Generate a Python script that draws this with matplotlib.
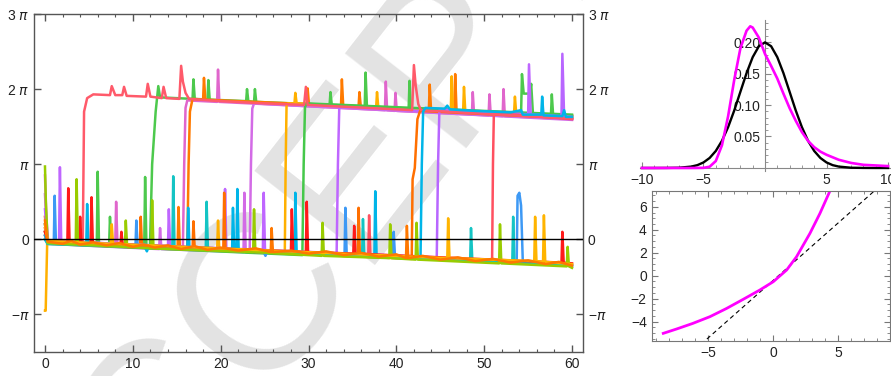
import numpy as np
import matplotlib.pyplot as plt

plt.rcParams['font.family'] = ['Liberation Sans', 'DejaVu Sans']
plt.rcParams['mathtext.fontset'] = 'dejavusans'

# ---- left panel: phase trajectories, values in units of pi ----
green_a = [[0, 0.2], [0.3, -0.03], [5.9, -0.07], [6.0, 0.9], [6.15, -0.07], [7.3, -0.08], [7.4, 0.3], [7.55, -0.08],
           [11.3, -0.1], [11.4, 0.83], [11.55, -0.1], [11.95, -0.1], [12.2, 1.0], [12.6, 1.7], [12.9, 2.04], [13.1, 1.89],
           [16.8, 1.87], [16.9, 2.13], [17.05, 1.87], [18.5, 1.86], [18.6, 2.12], [18.75, 1.86], [22.9, 1.84], [23.0, 2.0],
           [23.15, 1.84], [23.8, 1.83], [23.9, 2.0], [24.05, 1.83], [32.4, 1.79], [32.5, 1.96], [32.65, 1.79], [36.4, 1.77],
           [36.5, 2.22], [36.65, 1.77], [41.4, 1.74], [41.5, 2.11], [41.65, 1.74], [54.2, 1.67], [54.3, 2.2], [54.5, 1.94],
           [55.2, 1.94], [55.35, 2.07], [55.55, 1.67], [57.6, 1.65], [57.7, 1.93], [57.85, 1.65], [60, 1.64]]
pink_a = [[0, 0.85], [0.15, 0.3], [0.35, -0.01], [8.0, -0.06], [8.1, 0.5], [8.25, -0.06], [15.7, -0.1], [15.85, 1.0],
          [16.0, 1.75], [16.2, 1.85], [19.6, 1.83], [19.7, 2.26], [19.85, 1.83], [38.7, 1.72], [38.8, 2.1], [38.95, 1.72],
          [39.8, 1.71], [39.9, 1.95], [40.05, 1.71], [48.6, 1.66], [48.7, 1.96], [48.85, 1.66], [50.5, 1.65], [50.6, 1.93],
          [50.75, 1.65], [52.1, 1.64], [52.2, 2.0], [52.35, 1.64], [60, 1.6]]
orange_a = [[0, 0.3], [0.3, -0.02], [15.1, -0.1], [15.2, 0.43], [15.35, -0.1], [16.2, -0.11], [16.35, 1.0], [16.5, 1.7],
            [16.8, 1.87], [18.0, 1.86], [18.1, 2.15], [18.25, 1.86], [29.8, 1.8], [29.9, 2.01], [30.05, 1.8], [33.7, 1.78],
            [33.8, 2.13], [33.95, 1.78], [35.7, 1.77], [35.8, 1.96], [35.95, 1.77], [43.7, 1.73], [43.8, 2.06], [43.95, 1.73],
            [46.6, 1.72], [46.7, 2.2], [46.85, 1.72], [60, 1.65]]
orchid = [[0, 0.6], [0.3, -0.06], [13.0, -0.13], [13.1, 0.15], [13.25, -0.13], [22.6, -0.17], [22.7, 0.62],
          [22.85, -0.17], [23.3, -0.18], [23.45, 1.0], [23.6, 1.74], [23.8, 1.81], [60, 1.59]]
yellow_a = [[0, -0.95], [0.08, -0.95], [0.25, -0.05], [19.6, -0.15], [19.7, 0.25], [19.85, -0.15], [27.3, -0.19],
            [27.4, 1.0], [27.5, 1.78], [27.7, 1.81], [28.4, 1.81], [28.5, 1.95], [28.65, 1.81], [37.7, 1.75], [37.8, 1.96],
            [37.95, 1.75], [46.2, 1.71], [46.3, 2.17], [46.45, 1.71], [47.6, 1.7], [47.7, 2.03], [47.85, 1.7],
            [53.4, 1.67], [53.5, 1.9], [53.65, 1.67], [60, 1.63]]
green_b = [[0, 0.1], [0.3, -0.06], [29.3, -0.21], [29.45, 1.0], [29.6, 1.76], [29.8, 1.81], [60, 1.66]]
violet_a = [[0, 0.4], [0.3, -0.04], [1.6, -0.05], [1.7, 0.96], [1.85, -0.05], [14.0, -0.11], [14.1, 0.4], [14.25, -0.11],
            [20.4, -0.14], [20.5, 0.67], [20.65, -0.14], [24.8, -0.16], [24.9, 0.62], [25.05, -0.16], [33.2, -0.21],
            [33.35, 1.0], [33.5, 1.74], [33.7, 1.76], [55.0, 1.64], [55.1, 2.33], [55.3, 1.64], [60, 1.6]]
orange_b = [[0, 0.15], [0.3, -0.05], [10.8, -0.11], [10.9, 0.3], [11.05, -0.11], [16.8, -0.13], [16.9, 0.24], [17.05, -0.13],
            [20.3, -0.15], [20.4, 0.62], [20.55, -0.15], [35.6, -0.23], [35.7, 0.42], [35.85, -0.23], [41.75, -0.26],
            [41.85, 0.8], [42.1, 0.95], [42.4, 1.6], [42.7, 1.71], [60, 1.61]]
violet_b = [[0, 0.2], [0.3, -0.02], [44.6, -0.24], [44.75, 1.0], [44.9, 1.72], [45.1, 1.73], [58.8, 1.64], [58.9, 2.47],
            [59.1, 1.64], [60, 1.63]]
coral_b = [[0, 0.1], [0.3, -0.05], [36.8, -0.23], [36.9, 0.32], [37.05, -0.23], [50.9, -0.3], [51.0, 1.0], [51.1, 1.66],
           [51.3, 1.68], [60, 1.6]]
coral_a = [[0, 0.05], [0.3, -0.04], [2, -0.05], [4.3, -0.06], [4.45, 1.7], [4.8, 1.88], [5.5, 1.93], [7.4, 1.92],
           [7.6, 2.04], [8.0, 1.92], [8.8, 1.92], [9.0, 2.03], [9.3, 1.91], [11.5, 1.9], [11.7, 2.07], [12.0, 1.9],
           [13.3, 1.88], [13.5, 2.03], [13.8, 1.88], [15.3, 1.87], [15.5, 2.31], [15.7, 2.1], [16.0, 1.95], [16.4, 1.87],
           [20, 1.84], [25, 1.81], [29.5, 1.79], [29.7, 2.03], [29.9, 1.79], [35, 1.76], [41.8, 1.72], [42.0, 2.32],
           [42.2, 2.05], [42.5, 1.8], [42.8, 1.72], [50, 1.67], [60, 1.61]]
cyan = [[0, 0.05], [0.3, -0.05], [4.7, -0.07], [4.8, 0.47], [4.95, -0.07], [11.4, -0.11], [11.6, -0.16], [11.8, -0.1],
        [16.2, -0.12], [16.3, 0.42], [16.45, -0.12], [21.3, -0.15], [21.4, 0.42], [21.55, -0.15], [21.8, -0.15],
        [21.9, 0.67], [22.05, -0.15], [28.4, -0.18], [28.5, 0.62], [28.65, -0.18], [37.5, -0.23], [37.6, 0.64],
        [37.75, -0.23], [42.75, -0.26], [42.9, 1.0], [43.05, 1.7], [43.3, 1.75], [45.5, 1.74], [45.8, 1.78], [46.1, 1.73],
        [49, 1.71], [51, 1.7], [53, 1.69], [54.2, 1.72], [54.4, 1.66], [56.5, 1.66], [56.6, 1.9], [56.75, 1.65],
        [58.9, 1.64], [59.1, 1.72], [59.3, 1.63], [60, 1.63]]
red = [[0, 0.1], [0.3, -0.02], [2.55, -0.04], [2.65, 0.68], [2.8, -0.04], [3.9, -0.05], [4.0, 0.3], [4.15, -0.05],
       [5.2, -0.06], [5.3, 0.56], [5.45, -0.06], [8.6, -0.07], [8.7, 0.1], [8.85, -0.07], [28.0, -0.16], [28.1, 0.4],
       [28.25, -0.16], [29.7, -0.17], [29.8, 0.5], [29.95, -0.17], [35.1, -0.19], [35.2, 0.18], [35.35, -0.19],
       [58.8, -0.31], [58.9, 0.1], [59.05, -0.31], [60, -0.32]]
yellowgreen = [[0, 0.97], [0.1, 0.5], [0.3, -0.05], [3.5, -0.07], [3.6, 0.8], [3.75, -0.07], [9.1, -0.1], [9.2, 0.25],
               [9.35, -0.1], [12.1, -0.12], [12.2, 0.52], [12.35, -0.12], [23.7, -0.17], [23.8, 0.4], [23.95, -0.17],
               [31.5, -0.22], [31.6, 0.22], [31.75, -0.22], [39.2, -0.25], [39.3, 0.2], [39.45, -0.25], [42.2, -0.27],
               [42.3, 0.22], [42.45, -0.27], [51.7, -0.32], [51.8, 0.2], [51.95, -0.32], [59.4, -0.36], [59.5, -0.1],
               [59.65, -0.36], [60, -0.38]]
teal = [[0, 0.0], [0.3, -0.06], [14.5, -0.12], [14.6, 0.84], [14.75, -0.12], [18.3, -0.14], [18.4, 0.5], [18.55, -0.14],
        [36.1, -0.23], [36.2, 0.27], [36.35, -0.23], [48.4, -0.29], [48.5, 0.15], [48.65, -0.29], [53.2, -0.31],
        [53.3, 0.3], [53.45, -0.31], [60, -0.35]]
blue = [[0, 0.0], [0.3, -0.06], [1.0, -0.06], [1.1, 0.58], [1.25, -0.06], [10.3, -0.1], [10.4, 0.25], [10.55, -0.1],
        [24.9, -0.17], [25.1, -0.22], [25.3, -0.16], [34.1, -0.22], [34.2, 0.42], [34.35, -0.22], [39.6, -0.24],
        [39.7, 0.1], [39.85, -0.24], [53.7, -0.31], [53.8, 0.58], [54.0, 0.62], [54.2, 0.45], [54.4, -0.31], [60, -0.35]]
yellow_b = [[0, 0.2], [0.3, -0.02], [7.5, -0.06], [7.6, 0.2], [7.75, -0.06], [45.8, -0.25], [45.9, 0.28], [46.05, -0.25],
            [55.7, -0.29], [55.8, 0.3], [55.95, -0.29], [56.7, -0.3], [56.8, 0.32], [56.95, -0.3], [60, -0.33]]
orange_band = [[0, 0.25], [0.3, -0.03], [2, -0.06], [3, -0.02], [4, -0.07], [5.5, -0.04], [7, -0.08], [8.5, -0.05],
               [10, -0.1], [11.2, -0.07], [12.5, -0.11], [14, -0.08], [15.5, -0.13], [17, -0.09], [18.5, -0.14],
               [20, -0.11], [22, -0.15], [24, -0.12], [25.7, -0.17], [25.8, 0.15], [25.95, -0.17], [28, -0.15],
               [30, -0.19], [32, -0.16], [34, -0.21], [36, -0.18], [38, -0.23], [40, -0.2], [41.1, -0.25], [41.2, 0.18],
               [41.35, -0.25], [43, -0.22], [45, -0.27], [47, -0.24], [49, -0.29], [51, -0.26], [53, -0.31], [55, -0.28],
               [57, -0.33], [58.5, -0.3], [60, -0.35]]

traces = [(green_a, '#4DC94D'), (pink_a, '#E066CC'), (orange_a, '#FF7A00'), (orchid, '#D36BE6'), (yellow_a, '#FFB000'),
          (green_b, '#45C84A'), (violet_a, '#BF66FF'), (orange_b, '#FF6F00'), (violet_b, '#B866FF'),
          (coral_b, '#FF5060'), (coral_a, '#FF5A6A'), (cyan, '#00B5E8'), (blue, '#3D99F5'), (teal, '#14C4C4'),
          (red, '#FF1A1A'), (yellowgreen, '#99CC00'), (yellow_b, '#FFB400'), (orange_band, '#FF7800')]

# ---- top right: densities ----
pdf_x = [-10, -9, -8, -7, -6, -5.5, -5, -4.5, -4, -3.5, -3, -2.5, -2, -1.5, -1, -0.5, 0,
         0.5, 1, 1.5, 2, 2.5, 3, 3.5, 4, 4.5, 5, 5.5, 6, 7, 8, 9, 10]
pdf_black = [0, 0, 0.0001, 0.0004, 0.0022, 0.0045, 0.0088, 0.0159, 0.027, 0.0431, 0.0648, 0.0913, 0.121, 0.1506,
             0.176, 0.1933, 0.1995, 0.1933, 0.176, 0.1506, 0.121, 0.0913, 0.0648, 0.0431, 0.027, 0.0159, 0.0088,
             0.0045, 0.0022, 0.0004, 0.0001, 0, 0]
mag_x = [-10, -6, -5, -4.5, -4, -3.5, -3, -2.5, -2, -1.5, -1.2, -1, -0.5, 0, 0.5, 1, 1.5, 2, 2.5, 3, 3.5, 4, 4.5, 5,
         6, 7, 8, 9, 10]
mag_y = [0, 0, 0.0002, 0.002, 0.011, 0.036, 0.082, 0.14, 0.19, 0.218, 0.225, 0.223, 0.207, 0.181, 0.162, 0.142,
         0.118, 0.095, 0.075, 0.057, 0.043, 0.033, 0.026, 0.021, 0.013, 0.008, 0.005, 0.004, 0.003]

# ---- bottom right: quantile curve ----
qq_x = [-8.46, -7.43, -6.2, -4.87, -3.6, -2.31, -1.03, 0, 1.03, 1.79, 2.82, 3.59, 4.36, 4.6]
qq_y = [-5.01, -4.63, -4.15, -3.56, -2.85, -2.05, -1.24, -0.52, 0.5, 1.65, 3.68, 5.42, 7.37, 8.2]
diag_x = [-6.0, 9.0]
diag_y = [-6.4, 8.6]

fig = plt.figure(figsize=(8.91, 3.76), dpi=100)
fig.patch.set_facecolor('white')

fig.text(0.452, 0.64, 'ACCEPTED', rotation=52, fontsize=160, color='#e3e3e3', ha='center', va='center',
         zorder=-5, family='Liberation Sans')

frame = '#555555'

ax = fig.add_axes([34/891, 24/376, 549/891, 338/376])
ax.set_facecolor('none')
for d, c in traces:
    d = np.array(d)
    ax.plot(d[:, 0], d[:, 1], color=c, lw=1.8, solid_joinstyle='round')
ax.axhline(0, color='black', lw=1, zorder=5)
ax.set_xlim(-1.25, 61.25)
ax.set_ylim(-1.5, 3)
ax.set_xticks(range(0, 61, 10))
ax.set_xticks(np.arange(0, 61, 2), minor=True)
ax.set_yticks([-1, 0, 1, 2, 3])
ax.set_yticklabels(['\u2212$\\pi$', '0', '$\\pi$', '2 $\\pi$', '3 $\\pi$'])
ax.tick_params(which='both', direction='in', top=True, right=True, labelright=True, colors=frame,
               labelcolor='#222222', labelsize=10)
ax.tick_params(which='major', length=5, width=1)
ax.tick_params(which='minor', length=2.5, width=0.8)
for s in ax.spines.values():
    s.set_color(frame)
    s.set_linewidth(1)

ax2 = fig.add_axes([639.5/891, 205.5/376, 251/891, 150.5/376])
ax2.set_facecolor('none')
ax2.plot(pdf_x, pdf_black, color='black', lw=1.7, zorder=3)
ax2.plot(mag_x, mag_y, color='#FF00FF', lw=1.9, zorder=4)
ax2.set_xlim(-10.2, 10.2)
ax2.set_ylim(-0.004, 0.235)
ax2.spines['left'].set_position(('data', 0))
ax2.spines['bottom'].set_position(('data', 0))
ax2.spines['top'].set_visible(False)
ax2.spines['right'].set_visible(False)
for s in ['left', 'bottom']:
    ax2.spines[s].set_color('#888888')
ax2.set_xticks([-10, -5, 5, 10])
ax2.set_xticklabels(['\u221210', '\u22125', '5', '10'])
ax2.set_xticks(range(-10, 11), minor=True)
ax2.set_yticks([0.05, 0.1, 0.15, 0.2])
ax2.set_yticklabels(['0.05', '0.10', '0.15', '0.20'])
ax2.set_yticks(np.arange(0.01, 0.235, 0.01), minor=True)
ax2.tick_params(which='both', direction='in', colors='#888888', labelcolor='#222222', labelsize=10)
ax2.tick_params(which='major', length=4)
ax2.tick_params(which='minor', length=2)

ax3 = fig.add_axes([651.7/891, 35.3/376, 238.3/891, 149.7/376])
ax3.set_facecolor('none')
ax3.plot(diag_x, diag_y, color='black', lw=0.8, dashes=(4, 3))
ax3.plot(qq_x, qq_y, color='#FF00FF', lw=2)
ax3.set_xlim(-9.35, 8.98)
ax3.set_ylim(-5.65, 7.37)
ax3.set_xticks([-5, 0, 5])
ax3.set_xticklabels(['\u22125', '0', '5'])
ax3.set_xticks(range(-9, 9), minor=True)
ax3.set_yticks([-4, -2, 0, 2, 4, 6])
ax3.set_yticklabels(['\u22124', '\u22122', '0', '2', '4', '6'])
ax3.set_yticks(np.arange(-5.5, 7.4, 0.5), minor=True)
ax3.tick_params(which='both', direction='in', top=True, right=True, colors='#777777', labelcolor='#222222',
                labelsize=10)
ax3.tick_params(which='major', length=4)
ax3.tick_params(which='minor', length=2)
for s in ax3.spines.values():
    s.set_color('#777777')

fig.savefig('out.png', dpi=100)
